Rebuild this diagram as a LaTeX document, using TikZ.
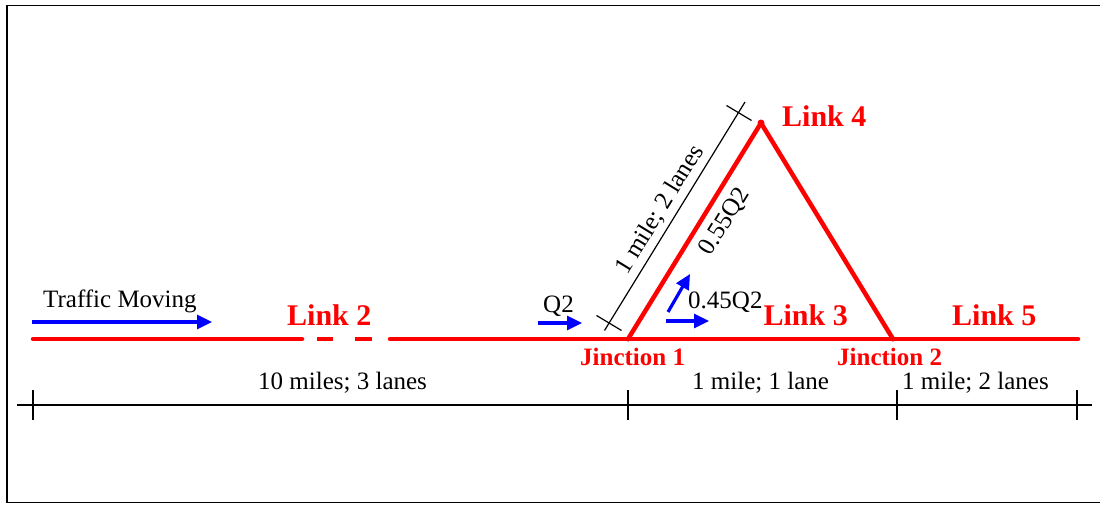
\documentclass[tikz,border=0pt]{standalone}
\usepackage{fontspec}
\setmainfont{Liberation Serif}
\usetikzlibrary{arrows.meta,calc}
\definecolor{linkred}{RGB}{255,0,0}
\definecolor{flowblue}{RGB}{0,0,255}
\begin{document}
\begin{tikzpicture}[x=1pt,y=-1pt,
  road/.style={draw=linkred,line width=4.5pt,line cap=round,line join=round},
  roaddash/.style={draw=linkred,line width=4.5pt,line cap=butt},
  flow/.style={draw=flowblue,line width=3.2pt,-{Triangle[length=15pt,width=14pt]}},
  dimline/.style={draw=black,line width=1.2pt},
  frame/.style={draw=black,line width=1.6pt},
  lbl/.style={font=\fontsize{25}{29}\selectfont,inner sep=0pt},
  linklbl/.style={text=linkred,font=\fontsize{30}{34}\selectfont\bfseries,inner sep=0pt},
  jlbl/.style={text=linkred,font=\fontsize{25}{29}\selectfont\bfseries,inner sep=0pt},
  dot/.style={circle,fill=linkred,inner sep=0pt,minimum size=7pt}]
\useasboundingbox (0,0) rectangle (1100,505);
\draw[frame] (7,5.5) rectangle (1104,502.5);

% road coordinates
\coordinate (w) at (33,339);
\coordinate (s1) at (302,339);
\coordinate (d1a) at (317,339);
\coordinate (d1b) at (333,339);
\coordinate (d2a) at (355,339);
\coordinate (d2b) at (372,339);
\coordinate (s2) at (390,339);
\node[dot,minimum size=5pt] (j1) at (628,339) {};
\node[dot] (top) at (761,123) {};
\node[dot,minimum size=5pt] (j2) at (893,339) {};
\coordinate (e) at (1078,339);

% roads
\draw[road] (w) -- (s1);
\draw[roaddash] (d1a) -- (d1b);
\draw[roaddash] (d2a) -- (d2b);
\draw[road] (s2) -- (j1.center) -- (j2.center) -- (e);
\draw[road] (j1.center) -- (top.center) -- (j2.center);

% horizontal dimension line
\coordinate (hl) at (17,405);
\coordinate (hr) at (1092,405);
\draw[dimline] (hl) -- (hr);
\foreach \x/\n in {33/ta,628/tb,897/tc,1077/td}{
  \coordinate (\n1) at (\x,390);
  \coordinate (\n2) at (\x,420);
  \draw[dimline] (\n1) -- (\n2);
}

% slanted dimension line
\coordinate (sl0) at (604.5,330.5);
\coordinate (sl1) at (745,102);
\coordinate (c1) at (609,323);
\coordinate (c2) at (739,113);
\draw[dimline] (sl0) -- (sl1);
\draw[dimline] ($(c1)+(-12.5,-7.5)$) coordinate (c1a) -- ($(c1)+(12.5,7.5)$) coordinate (c1b);
\draw[dimline] ($(c2)+(-12.5,-7.5)$) coordinate (c2a) -- ($(c2)+(12.5,7.5)$) coordinate (c2b);

% blue flow arrows
\coordinate (f1a) at (32,322);
\coordinate (f1b) at (212,322);
\draw[flow] (f1a) -- (f1b);
\coordinate (f2a) at (538,323);
\coordinate (f2b) at (582,323);
\draw[flow] (f2a) -- (f2b);
\coordinate (f3a) at (666,321);
\coordinate (f3b) at (709,321);
\draw[flow] (f3a) -- (f3b);
\coordinate (f4a) at (668,312);
\coordinate (f4b) at (690,274);
\draw[flow] (f4a) -- (f4b);

% labels
\node[lbl,anchor=base west] (tm) at (43,307) {Traffic Moving};
\node[lbl,anchor=base west] (q2) at (543,312) {Q2};
\node[lbl,anchor=base west] (q45) at (688,308) {0.45Q2};
\node[lbl,rotate=58.4] (q55) at (725,222) {0.55Q2};
\node[lbl,rotate=58.4] (d4) at (660,210) {1 mile; 2 lanes};

\node[linklbl,anchor=base west] (l2) at (287,325) {Link 2};
\node[linklbl,anchor=base east] (l3) at (848,325) {Link 3};
\node[linklbl,anchor=base west] (l4) at (782,127) {Link 4};
\node[linklbl,anchor=base west] (l5) at (952,325) {Link 5};

\node[jlbl,anchor=base west] (jl1) at (580,365) {Jinction 1};
\node[jlbl,anchor=base west] (jl2) at (837,365) {Jinction 2};

\node[lbl,anchor=base west] (d2) at (258,389) {10 miles; 3 lanes};
\node[lbl,anchor=base west] (d3) at (692,389) {1 mile; 1 lane};
\node[lbl,anchor=base west] (d5) at (902,389) {1 mile; 2 lanes};
\end{tikzpicture}
\end{document}
